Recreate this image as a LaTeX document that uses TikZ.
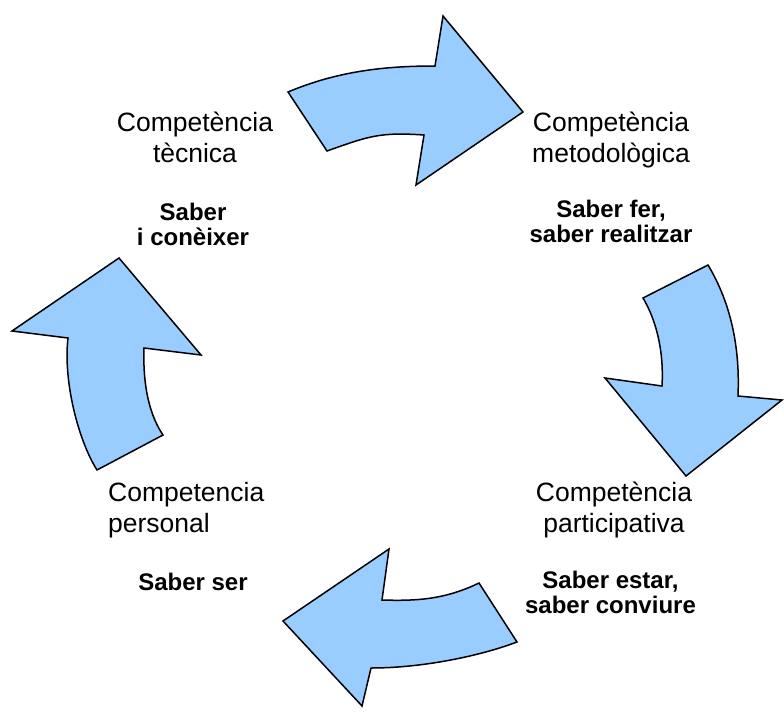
\documentclass[tikz,border=0pt]{standalone}
\usepackage{fontspec}
\setmainfont{Liberation Sans}
\definecolor{blauclar}{HTML}{99CCFF}

\begin{document}
\begin{tikzpicture}[x=1pt,y=-1pt,
  fletxa/.style={draw=black, line width=1.5pt, fill=blauclar, line join=miter},
  comp/.style={font=\fontsize{26.5}{31}\selectfont, inner sep=0pt, anchor=base},
  saber/.style={font=\fontsize{24}{25}\selectfont\bfseries, align=center, inner sep=0pt, anchor=base}]
  \useasboundingbox (0,0) rectangle (784,715);

  \node[comp, align=center] (tecnica) at (195,162.5) {Competència\\tècnica};
  \node[saber] (coneixer) at (193,245) {Saber\\i conèixer};

  \node[comp, align=center] (metode) at (611,162.5) {Competència\\metodològica};
  \node[saber] (fer) at (611,242.5) {Saber fer,\\saber realitzar};

  \node[comp, align=center] (particip) at (614,532.5) {Competència\\participativa};
  \node[saber] (estar) at (610.5,613) {Saber estar,\\saber conviure};

  \node[comp, align=left, anchor=base west] (personal) at (108,532.5) {Competencia\\personal};
  \node[saber] (ser) at (193,590) {Saber ser};

  % fletxes
  \draw[fletxa] (288,92) .. controls (338,71) and (385,66) .. (435,66)
    -- (443,16) -- (523,112) -- (416,185) -- (424,135)
    .. controls (380,132) and (369,136) .. (327,151) -- cycle;
  \draw[fletxa] (708,265) -- (643,298)
    .. controls (656,320) and (664,350) .. (662,386)
    -- (605,378) -- (686,476) -- (782,400) -- (738,396)
    .. controls (740,350) and (732,305) .. cycle;
  \draw[fletxa] (479,583) .. controls (444,600) and (415,601) .. (382,600)
    -- (389,549) -- (283,621) -- (362,706) -- (371,668)
    .. controls (420,668) and (477,657) .. (517,642) -- cycle;
  \draw[fletxa] (119,258) -- (12,331) -- (68,338)
    .. controls (63,380) and (78,440) .. (97,470)
    -- (163,435) .. controls (146,410) and (143,375) .. (144,348)
    -- (201,355) -- cycle;
\end{tikzpicture}
\end{document}
